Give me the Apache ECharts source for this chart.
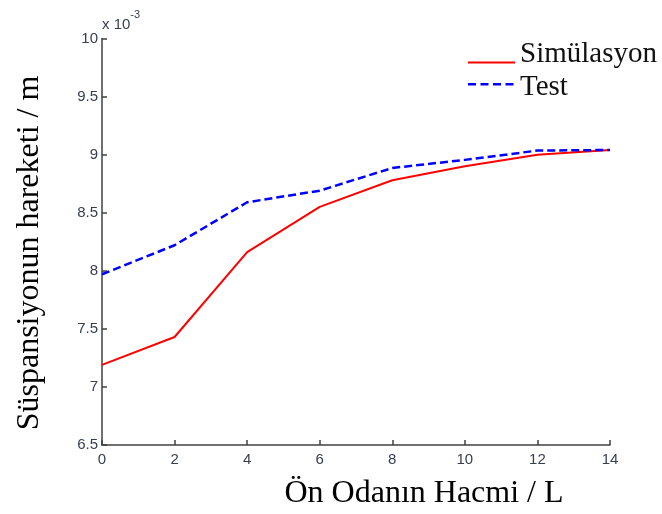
<!DOCTYPE html>
<html>
<head>
<meta charset="utf-8">
<script src="https://cdn.jsdelivr.net/npm/echarts@6/dist/echarts.min.js"></script>
<style>
html,body{margin:0;padding:0;background:#fff;}
#chart{width:662px;height:514px;}
</style>
</head>
<body>
<div id="chart"></div>
<script>
// Data (values in units of 10^-3 m)
var volumes = [0, 2, 4, 6, 8, 10, 12, 14];
var simulasyon = [7.19, 7.43, 8.16, 8.55, 8.78, 8.90, 9.00, 9.04];
var test = [7.97, 8.22, 8.59, 8.69, 8.885, 8.955, 9.035, 9.04];
var xTicks = [0, 2, 4, 6, 8, 10, 12, 14];
var yTicks = [6.5, 7, 7.5, 8, 8.5, 9, 9.5, 10];

function pairs(xs, ys){ return xs.map(function(x,i){ return [x, ys[i]]; }); }

var chart = echarts.init(document.getElementById('chart'));
var labelColor = '#363e52';
var axisColor = '#404040';
chart.setOption({
  animation: false,
  grid: {left: 102, right: 52, top: 38.5, bottom: 69},
  xAxis: {
    type: 'value', min: xTicks[0], max: xTicks[xTicks.length-1], interval: 2,
    axisLine: {show: true, lineStyle: {color: axisColor, width: 1.5}},
    axisTick: {show: true, inside: true, length: 5, lineStyle: {color: axisColor, width: 1.5}},
    axisLabel: {color: labelColor, fontSize: 15, fontFamily: 'Liberation Sans', margin: 7},
    splitLine: {show: false}
  },
  yAxis: {
    type: 'value', min: yTicks[0], max: yTicks[yTicks.length-1], interval: 0.5,
    axisLine: {show: true, lineStyle: {color: axisColor, width: 1.5}},
    axisTick: {show: true, inside: true, length: 5, lineStyle: {color: axisColor, width: 1.5}},
    axisLabel: {color: labelColor, fontSize: 15, fontFamily: 'Liberation Sans', margin: 4},
    splitLine: {show: false}
  },
  legend: {
    orient: 'vertical', left: 463, top: 33, itemWidth: 47, itemHeight: 20, itemGap: 0,
    textStyle: {fontFamily: 'Liberation Serif', fontSize: 29, color: '#111', lineHeight: 33, padding: [0,0,0,0]},
    data: [
      {name: 'Simülasyon', icon: 'path://M0,0 L0.05,0 L0,0.05 Z M0,17 L47,17 L47,19 L0,19 Z M46.95,20 L47,20 L47,19.95 Z', itemStyle: {color: '#ff0000'}},
      {name: 'Test', icon: 'path://M0,0 L0.05,0 L0,0.05 Z M0,5.5 L8,5.5 L8,8 L0,8 Z M12.5,5.5 L20.5,5.5 L20.5,8 L12.5,8 Z M25,5.5 L33,5.5 L33,8 L25,8 Z M37.5,5.5 L45.5,5.5 L45.5,8 L37.5,8 Z M46.95,20 L47,20 L47,19.95 Z', itemStyle: {color: '#0000ff'}}
    ]
  },
  graphic: [
    {type: 'text', left: 102, top: 9, style: {text: '{a|x 10}{b|-3}', rich: {
      a: {fontSize: 15, fontFamily: 'Liberation Sans', fill: labelColor, padding: [8,0,0,0]},
      b: {fontSize: 11, fontFamily: 'Liberation Sans', fill: labelColor, verticalAlign: 'top', padding: [0,0,8,0]}
    }}},
    {type: 'text', x: 424, y: 494, style: {text: 'Ön Odanın Hacmi / L', fontFamily: 'Liberation Serif', fontSize: 32, fill: '#000', align: 'center', verticalAlign: 'middle'}},
    {type: 'text', x: 30, y: 253, rotation: Math.PI/2, style: {text: 'Süspansiyonun hareketi / m', fontFamily: 'Liberation Serif', fontSize: 32, fill: '#000', align: 'center', verticalAlign: 'middle'}}
  ],
  series: [
    {name: 'Simülasyon', type: 'line', data: pairs(volumes, simulasyon), symbol: 'none',
     lineStyle: {color: '#ff0000', width: 2}, itemStyle: {color: '#ff0000'}},
    {name: 'Test', type: 'line', data: pairs(volumes, test), symbol: 'none',
     lineStyle: {color: '#0000ff', width: 2.5, type: [8, 4]}, itemStyle: {color: '#0000ff'}}
  ]
});
</script>
</body>
</html>
